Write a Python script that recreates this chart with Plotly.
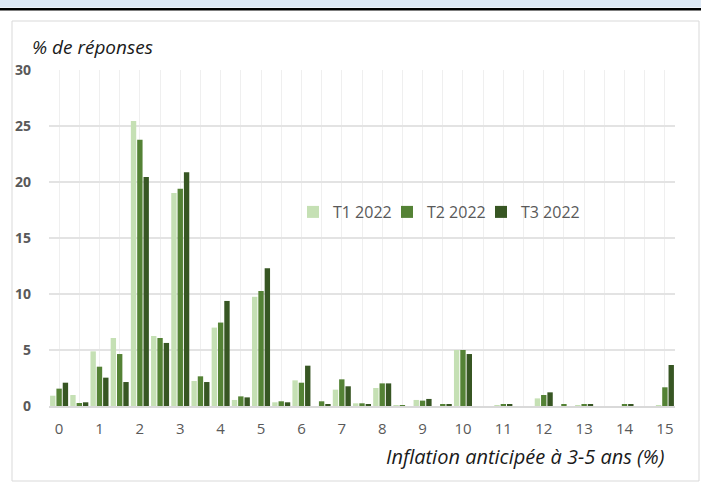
import plotly.graph_objects as go

# Inflation anticipée (catégories, en %)
categories = [0, 0.5, 1, 1.5, 2, 2.5, 3, 3.5, 4, 4.5, 5, 5.5, 6, 6.5, 7, 7.5,
              8, 8.5, 9, 9.5, 10, 10.5, 11, 11.5, 12, 12.5, 13, 13.5, 14, 14.5, 15]

t1_2022 = [0.92, 0.98, 4.88, 6.07, 25.45, 6.25, 19.02, 2.23, 7.0, 0.54, 9.75, 0.33,
           2.29, 0.0, 1.46, 0.24, 1.61, 0.06, 0.54, 0.0, 5.0, 0.0, 0.06, 0.0,
           0.68, 0.0, 0.06, 0.0, 0.0, 0.0, 0.06]
t2_2022 = [1.55, 0.27, 3.51, 4.64, 23.78, 6.07, 19.4, 2.65, 7.45, 0.86, 10.27, 0.42,
           2.08, 0.42, 2.38, 0.24, 2.02, 0.06, 0.48, 0.09, 5.0, 0.0, 0.09, 0.0,
           0.98, 0.09, 0.09, 0.0, 0.09, 0.0, 1.67]
t3_2022 = [2.08, 0.33, 2.53, 2.14, 20.45, 5.63, 20.86, 2.14, 9.38, 0.77, 12.3, 0.33,
           3.6, 0.15, 1.76, 0.15, 2.02, 0.0, 0.63, 0.09, 4.64, 0.0, 0.09, 0.0,
           1.22, 0.0, 0.09, 0.0, 0.09, 0.0, 3.66]

series_names = ["T1 2022", "T2 2022", "T3 2022"]
series_colors = ["#c5e0b4", "#548235", "#375623"]

x_tick_vals = list(range(0, 16))
y_tick_vals = [0, 5, 10, 15, 20, 25, 30]

FONT = "Open Sans"
W, H = 701, 485
ML, MR, MT, MB = 49, 26, 70, 79
PW, PH = W - ML - MR, H - MT - MB


def px_x(p):
    return (p - ML) / PW


def px_y(p):
    return (H - MB - p) / PH


legend_ids = ["legend", "legend2", "legend3"]
legend_left_px = [293, 387, 481]

fig = go.Figure()
for name, vals, col, lid in zip(series_names, [t1_2022, t2_2022, t3_2022], series_colors, legend_ids):
    fig.add_trace(go.Bar(x=categories, y=vals, name=name, legend=lid,
                         marker=dict(color=col, line=dict(width=0))))

legend_style = dict(orientation="h", xanchor="left", yanchor="middle",
                    font=dict(family=FONT, size=16, color="#595959"),
                    bgcolor="rgba(0,0,0,0)", itemwidth=30)

fig.update_layout(
    width=W, height=H,
    margin=dict(l=ML, r=MR, t=MT, b=MB, autoexpand=False),
    paper_bgcolor="white", plot_bgcolor="white",
    barmode="group", bargap=0.06, bargroupgap=0.15,
    font=dict(family=FONT, color="#595959"),
    showlegend=True,
    xaxis=dict(range=[-0.25, 15.25], tickmode="array", tickvals=x_tick_vals,
               ticktext=[str(v) for v in x_tick_vals],
               showgrid=True, gridcolor="#efefef", gridwidth=1,
               minor=dict(dtick=0.5, tick0=0, showgrid=True, gridcolor="#efefef", gridwidth=1),
               showline=True, linecolor="#d9d9d9", linewidth=1.5,
               ticks="", tickfont=dict(family=FONT, size=15, color="#595959"),
               ticklabelstandoff=8, zeroline=False, fixedrange=True, automargin=False),
    yaxis=dict(range=[0, 30], tickmode="array", tickvals=y_tick_vals,
               ticktext=["<b>%d</b>" % v for v in y_tick_vals],
               showgrid=True, gridcolor="#e3e3e3", gridwidth=1.5,
               zeroline=False, ticks="", showline=False,
               tickfont=dict(family=FONT, size=14, color="#595959"),
               ticklabelstandoff=17, fixedrange=True, automargin=False),
)
for lid, lx in zip(legend_ids, legend_left_px):
    fig.update_layout({lid: dict(legend_style, x=px_x(lx), y=px_y(212))})

# Frame decorations
fig.add_shape(type="rect", xref="paper", yref="paper",
              x0=px_x(0), x1=px_x(W), y0=px_y(7.5), y1=px_y(0),
              fillcolor="#dde8f4", line=dict(width=0), layer="below")
fig.add_shape(type="line", xref="paper", yref="paper",
              x0=px_x(0), x1=px_x(W), y0=px_y(9.2), y1=px_y(9.2),
              line=dict(color="black", width=2.5), layer="below")
fig.add_shape(type="rect", xref="paper", yref="paper",
              x0=px_x(12), x1=px_x(699), y0=px_y(481), y1=px_y(21),
              fillcolor="rgba(0,0,0,0)", line=dict(color="#d9d9d9", width=1), layer="below")

fig.add_annotation(text="<i>% de réponses</i>", xref="paper", yref="paper",
                   x=px_x(30), y=px_y(47), xanchor="left", yanchor="middle",
                   showarrow=False, font=dict(family=FONT, size=19, color="#1a1a1a"))
fig.add_annotation(text="<i>Inflation anticipée à 3-5 ans (%)</i>", xref="paper", yref="paper",
                   x=px_x(666), y=px_y(457), xanchor="right", yanchor="middle",
                   showarrow=False, font=dict(family=FONT, size=20, color="#1a1a1a"))

fig.write_html("out.html", config={"displayModeBar": False},
               post_script="document.body.style.margin='0px';")
